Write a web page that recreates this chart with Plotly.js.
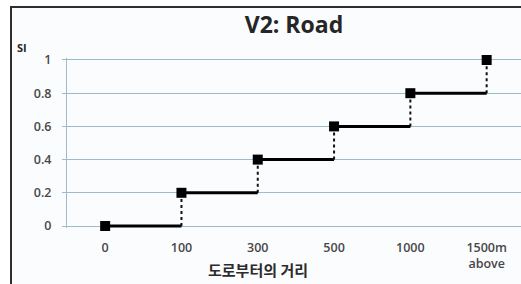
<!DOCTYPE html>
<html>
<head>
<meta charset="utf-8">
<script src="https://cdn.plot.ly/plotly-3.0.1.min.js"></script>
<style>
  html, body { margin: 0; padding: 0; background: #ffffff; }
  #frame { position: absolute; left: 10px; top: 6px; width: 509px; height: 276px;
           border-top: 2px solid #2e2e2e; border-left: 2px solid #2e2e2e; background: #fbfcfe; }
  #chart { width: 509px; height: 276px; }
</style>
</head>
<body>
<div id="frame"><div id="chart"></div></div>
<script>
// Data
const categories = ['0', '100', '300', '500', '1000', '1500m<br>above'];
const siValues = [0, 0.2, 0.4, 0.6, 0.8, 1];
const yTicks = [0, 0.2, 0.4, 0.6, 0.8, 1];
const yTickLabels = ['0', '0.2', '0.4', '0.6', '0.8', '1'];

// Build step segments from data
const stepX = [], stepY = [], dropX = [], dropY = [];
for (let i = 0; i < categories.length - 1; i++) {
  stepX.push(categories[i], categories[i + 1], null);
  stepY.push(siValues[i], siValues[i], null);
  dropX.push(categories[i + 1], categories[i + 1], null);
  dropY.push(siValues[i], siValues[i + 1], null);
}

const gridColor = '#9dbccb';
const tickFont = { family: 'Open Sans, sans-serif', size: 12.5, color: '#474747', weight: 600 };

const traces = [
  { x: dropX, y: dropY, type: 'scatter', mode: 'lines', cliponaxis: false,
    line: { color: '#111111', width: 2, dash: '3px,3px' }, hoverinfo: 'skip', showlegend: false },
  { x: stepX, y: stepY, type: 'scatter', mode: 'lines', cliponaxis: false,
    line: { color: '#000000', width: 3 }, hoverinfo: 'skip', showlegend: false },
  { x: categories, y: siValues, type: 'scatter', mode: 'markers', cliponaxis: false,
    marker: { symbol: 'square', size: 10, color: '#000000' }, showlegend: false }
];

const layout = {
  width: 509, height: 276,
  margin: { l: 55, r: 0, t: 50, b: 56 },
  paper_bgcolor: '#fbfcfe', plot_bgcolor: '#fbfcfe',
  title: { text: 'V2: Road', x: 0.5, xref: 'paper', xanchor: 'center',
           y: 0.938, yref: 'container', yanchor: 'middle',
           font: { family: 'Open Sans, sans-serif', size: 23, color: '#262626', weight: 700 } },
  xaxis: { type: 'category', categoryorder: 'array', categoryarray: categories,
           range: [-0.5, 5.45], showgrid: false, zeroline: false, showline: false,
           ticks: '', ticklabelstandoff: 10, tickfont: tickFont, fixedrange: true },
  yaxis: { range: [-0.012, 1.012], tickvals: yTicks, ticktext: yTickLabels,
           showgrid: true, gridcolor: gridColor, gridwidth: 1, zeroline: false,
           showline: true, linecolor: gridColor, linewidth: 1,
           ticks: 'outside', ticklen: 4, tickcolor: gridColor,
           ticklabelstandoff: 8, tickfont: tickFont, fixedrange: true },
  annotations: [
    { text: 'SI', xref: 'paper', yref: 'paper', x: -0.099, y: 1.059,
      xanchor: 'center', yanchor: 'middle', showarrow: false,
      font: { family: 'Open Sans, sans-serif', size: 11, color: '#262626', weight: 700 } },
    { text: '도로부터의 거리', xref: 'paper', yref: 'paper', x: 0.4207, y: -0.247,
      xanchor: 'center', yanchor: 'middle', showarrow: false,
      font: { family: 'Noto Sans CJK KR, sans-serif', size: 15, color: '#2b2b2b', weight: 700 } }
  ]
};

Plotly.newPlot('chart', traces, layout, { displayModeBar: false, staticPlot: true });
</script>
</body>
</html>
